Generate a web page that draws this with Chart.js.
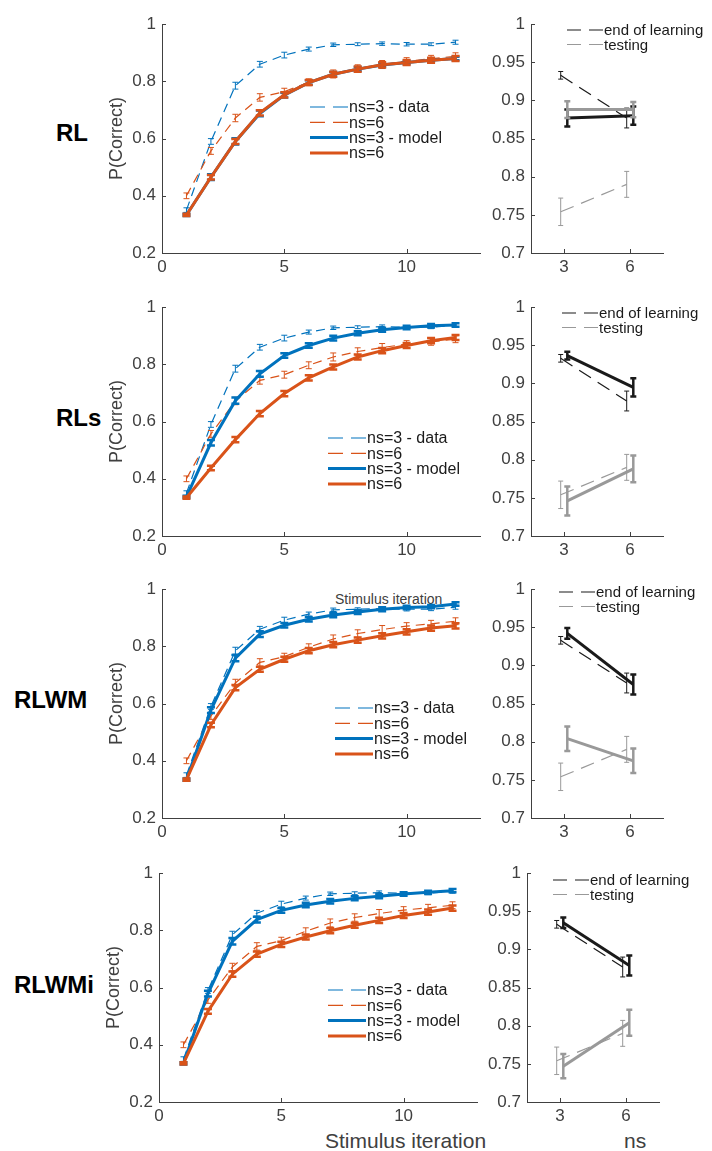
<!DOCTYPE html>
<html>
<head>
<meta charset="utf-8">
<script src="https://cdn.jsdelivr.net/npm/chart.js@4.4.1/dist/chart.umd.min.js"></script>
<style>
  body { margin: 0; background: #fff; width: 712px; height: 1151px; position: relative; overflow: hidden;
         font-family: "Liberation Sans", Arial, sans-serif; }
  canvas { position: absolute; }
  .lbl { position: absolute; white-space: nowrap; line-height: 1; transform: translateY(-50%); color: #404040; }
  .row { font-weight: bold; color: #000; font-size: 24px; }
</style>
</head>
<body>

<div class="lbl row" style="left:56px; top:133px;">RL</div>
<div class="lbl row" style="left:56px; top:418px;">RLs</div>
<div class="lbl row" style="left:14px; top:700px;">RLWM</div>
<div class="lbl row" style="left:14px; top:985px;">RLWMi</div>
<div class="lbl" style="left:335px; top:599px; font-size:14px;">Stimulus iteration</div>
<div class="lbl" style="left:325px; top:1140px; font-size:21px;">Stimulus iteration</div>
<div class="lbl" style="left:624px; top:1140px; font-size:21px;">ns</div>

<script>
// ---- data ----
const iterations = [1, 2, 3, 4, 5, 6, 7, 8, 9, 10, 11, 12];
const iterTicks = [0, 5, 10];
const pTicks = [0.2, 0.4, 0.6, 0.8, 1];

// behavioural data (same in every row)
const dataNs3 = [0.35, 0.59, 0.785, 0.86, 0.892, 0.913, 0.928, 0.93, 0.932, 0.93, 0.93, 0.937];
const dataNs3Err = [0.008, 0.01, 0.012, 0.01, 0.01, 0.007, 0.006, 0.005, 0.006, 0.006, 0.005, 0.007];
const dataNs6 = [0.40, 0.557, 0.672, 0.744, 0.764, 0.797, 0.826, 0.845, 0.859, 0.871, 0.879, 0.888];
const dataNs6Err = [0.01, 0.012, 0.013, 0.013, 0.012, 0.012, 0.014, 0.013, 0.014, 0.012, 0.012, 0.012];

// model fits
const rlNs3 = [0.333, 0.465, 0.59, 0.688, 0.752, 0.796, 0.825, 0.843, 0.857, 0.866, 0.874, 0.88];
const rlNs6 = [0.333, 0.465, 0.59, 0.69, 0.753, 0.796, 0.825, 0.843, 0.858, 0.866, 0.874, 0.88];
const rlsNs3 = [0.337, 0.526, 0.673, 0.767, 0.831, 0.866, 0.892, 0.909, 0.921, 0.929, 0.935, 0.938];
const rlsNs6 = [0.334, 0.438, 0.537, 0.628, 0.698, 0.753, 0.791, 0.826, 0.848, 0.866, 0.883, 0.894];
const rlwmNs3 = [0.334, 0.577, 0.759, 0.843, 0.874, 0.895, 0.91, 0.92, 0.93, 0.936, 0.939, 0.948];
const rlwmNs6 = [0.334, 0.525, 0.656, 0.72, 0.755, 0.785, 0.806, 0.822, 0.837, 0.851, 0.864, 0.872];
const rlwmiNs3 = [0.335, 0.579, 0.762, 0.838, 0.87, 0.889, 0.902, 0.912, 0.919, 0.927, 0.933, 0.939];
const rlwmiNs6 = [0.335, 0.517, 0.647, 0.717, 0.751, 0.777, 0.799, 0.818, 0.835, 0.852, 0.864, 0.878];
const modelErr3 = [0.004, 0.01, 0.011, 0.01, 0.008, 0.008, 0.008, 0.007, 0.007, 0.006, 0.006, 0.006];
const modelErr6 = [0.004, 0.008, 0.009, 0.009, 0.009, 0.009, 0.009, 0.009, 0.009, 0.009, 0.009, 0.009];

// right panels: end of learning / testing by set size
const setSizes = [3, 6];
const nsTicks = [3, 6];
const accTicks = [0.7, 0.75, 0.8, 0.85, 0.9, 0.95, 1];
const endData = [0.933, 0.877];
const endDataErr = [0.005, 0.013];
const testData = [0.754, 0.79];
const testDataErr = [0.018, 0.017];

const rlEnd = [0.877, 0.880], rlEndErr = [0.011, 0.012];
const rlTest = [0.888, 0.888], rlTestErr = [0.011, 0.010];
const rlsEnd = [0.9365, 0.895], rlsEndErr = [0.005, 0.012];
const rlsTest = [0.746, 0.788], rlsTestErr = [0.019, 0.0175];
const rlwmEnd = [0.942, 0.875], rlwmEndErr = [0.007, 0.013];
const rlwmTest = [0.804, 0.775], rlwmTestErr = [0.016, 0.016];
const rlwmiEnd = [0.935, 0.879], rlwmiEndErr = [0.007, 0.013];
const rlwmiTest = [0.747, 0.804], rlwmiTestErr = [0.016, 0.017];

const leftLegend = ['ns=3 - data', 'ns=6', 'ns=3 - model', 'ns=6'];
const rightLegend = ['end of learning', 'testing'];

// ---- layout / style ----
const rowTop = [23, 306, 588, 872];
const rowShift = [0, 0, 0, -3];
const rightShift = [0, 0, 0, -4];
const leftLegendPos = [[310, 107], [328, 438], [335, 708], [328, 990]];
const rightLegendPos = [[567, 30], [562, 313], [559, 592], [553, 880]];

const axisColor = '#404040';
const blue = '#0072BD', orange = '#D95319', black = '#1a1a1a', grey = '#999999';

Chart.defaults.font.family = '"Liberation Sans", Arial, sans-serif';
Chart.defaults.color = axisColor;

const fmt = v => String(+v.toFixed(2));

// error bars drawn right after each dataset so layering follows dataset order
const errorBars = {
  id: 'errorBars',
  afterDatasetDraw(chart, args) {
    const ds = chart.data.datasets[args.index];
    if (!ds.errors) return;
    const { ctx, scales: { x, y } } = chart;
    ctx.save();
    ctx.strokeStyle = ds.borderColor;
    ctx.lineWidth = ds.errWidth;
    ctx.setLineDash([]);
    const c = ds.capWidth / 2;
    ctx.beginPath();
    ds.data.forEach((p, i) => {
      const px = x.getPixelForValue(p.x);
      const top = y.getPixelForValue(p.y + ds.errors[i]);
      const bot = y.getPixelForValue(p.y - ds.errors[i]);
      ctx.moveTo(px, top); ctx.lineTo(px, bot);
      ctx.moveTo(px - c, top); ctx.lineTo(px + c, top);
      ctx.moveTo(px - c, bot); ctx.lineTo(px + c, bot);
    });
    ctx.stroke();
    ctx.restore();
  }
};

// inward ticks (matlab style) + legend inside the axes
const matlabAxes = {
  id: 'matlabAxes',
  afterDraw(chart, args, opts) {
    const { ctx, chartArea: a, scales: { x, y } } = chart;
    ctx.save();
    ctx.strokeStyle = axisColor;
    ctx.lineWidth = 1;
    ctx.beginPath();
    x.ticks.forEach(t => {
      const px = Math.round(x.getPixelForValue(t.value)) + 0.5;
      ctx.moveTo(px, a.bottom); ctx.lineTo(px, a.bottom - 4);
    });
    y.ticks.forEach(t => {
      const py = Math.round(y.getPixelForValue(t.value)) + 0.5;
      ctx.moveTo(a.left, py); ctx.lineTo(a.left + 4, py);
    });
    ctx.stroke();

    const lg = opts.legend;
    ctx.font = lg.size + 'px "Liberation Sans", Arial, sans-serif';
    ctx.textBaseline = 'middle';
    ctx.textAlign = 'left';
    lg.items.forEach((it, i) => {
      const yy = lg.y + i * lg.gap;
      ctx.strokeStyle = it.color;
      ctx.lineWidth = it.width;
      ctx.setLineDash(it.dash);
      ctx.beginPath();
      ctx.moveTo(lg.x, yy); ctx.lineTo(lg.x + lg.len, yy);
      ctx.stroke();
      ctx.fillStyle = '#1a1a1a';
      ctx.fillText(it.text, lg.x + lg.len + 1, yy + 1);
    });
    ctx.restore();
  }
};

function series(label, xs, ys, errs, st) {
  return {
    label,
    data: xs.map((v, i) => ({ x: v + (st.dx || 0), y: ys[i] })),
    errors: errs,
    borderColor: st.color,
    borderWidth: st.width,
    borderDash: st.dash || [],
    errWidth: st.errWidth,
    capWidth: st.cap,
    pointRadius: 0,
    fill: false,
    tension: 0,
    order: st.order,
    clip: false
  };
}

function axisOpts(min, max, tickVals, fitSize, horizontal, title) {
  const o = {
    type: 'linear', min, max,
    grid: { display: false, drawTicks: false },
    border: { display: true, color: axisColor, width: 1 },
    afterBuildTicks: s => { s.ticks = tickVals.map(v => ({ value: v })); },
    ticks: { font: { size: 17 }, color: axisColor, autoSkip: false, maxRotation: 0,
             padding: horizontal ? 4 : 6, callback: v => fmt(v) }
  };
  o.afterFit = horizontal ? s => { s.height = fitSize; } : s => { s.width = fitSize; };
  if (title) o.title = { display: true, text: title, color: axisColor, font: { size: 18 }, padding: { top: 6, bottom: 0 } };
  return o;
}

function addCanvas(left, top, w, h) {
  const cv = document.createElement('canvas');
  cv.width = w; cv.height = h;
  cv.style.left = left + 'px'; cv.style.top = top + 'px';
  document.body.appendChild(cv);
  return cv;
}

const modelCurves = [[rlNs3, rlNs6], [rlsNs3, rlsNs6], [rlwmNs3, rlwmNs6], [rlwmiNs3, rlwmiNs6]];
const modelBars = [[rlEnd, rlEndErr, rlTest, rlTestErr], [rlsEnd, rlsEndErr, rlsTest, rlsTestErr],
                   [rlwmEnd, rlwmEndErr, rlwmTest, rlwmTestErr], [rlwmiEnd, rlwmiEndErr, rlwmiTest, rlwmiTestErr]];

for (let r = 0; r < 4; r++) {
  // ----- learning curves -----
  const lx = 100 + rowShift[r], ly = rowTop[r] - 15;
  const cvL = addCanvas(lx, ly, 390, 270);
  const [m3, m6] = modelCurves[r];
  new Chart(cvL, {
    type: 'line',
    data: {
      datasets: [
        series(leftLegend[0], iterations, dataNs3, dataNs3Err, { color: blue, width: 1.2, dash: [9, 6], errWidth: 1, cap: 6, order: 4 }),
        series(leftLegend[1], iterations, dataNs6, dataNs6Err, { color: orange, width: 1.2, dash: [9, 6], errWidth: 1, cap: 6, order: 3 }),
        series(leftLegend[2], iterations, m3, modelErr3, { color: blue, width: 3, errWidth: 2.5, cap: 8, order: 2 }),
        series(leftLegend[3], iterations, m6, modelErr6, { color: orange, width: 3, errWidth: 2.5, cap: 8, order: 1 })
      ]
    },
    options: {
      responsive: false, animation: false, devicePixelRatio: 1,
      layout: { padding: { top: 15, right: 10, bottom: 0, left: 0 } },
      plugins: {
        legend: { display: false }, tooltip: { enabled: false },
        matlabAxes: { legend: {
          x: leftLegendPos[r][0] - lx, y: leftLegendPos[r][1] - ly, len: 38, gap: 15.3, size: 16,
          items: [
            { text: leftLegend[0], color: blue, width: 1.2, dash: [15, 8] },
            { text: leftLegend[1], color: orange, width: 1.2, dash: [15, 8] },
            { text: leftLegend[2], color: blue, width: 3, dash: [] },
            { text: leftLegend[3], color: orange, width: 3, dash: [] }
          ] } }
      },
      scales: {
        x: axisOpts(0, 13, iterTicks, 25, true),
        y: axisOpts(0.2, 1, pTicks, 62, false, 'P(Correct)')
      }
    },
    plugins: [errorBars, matlabAxes]
  });

  // ----- end of learning / testing -----
  const rx = 482 + rightShift[r], ry = rowTop[r] - 15;
  const cvR = addCanvas(rx, ry, 230, 270);
  const [mEnd, mEndErr, mTest, mTestErr] = modelBars[r];
  new Chart(cvR, {
    type: 'line',
    data: {
      datasets: [
        series('end of learning', setSizes, endData, endDataErr, { color: black, width: 1.2, dash: [14, 8], errWidth: 1, cap: 5, dx: -0.15, order: 4 }),
        series('testing', setSizes, testData, testDataErr, { color: grey, width: 1.2, dash: [14, 8], errWidth: 1, cap: 5, dx: -0.15, order: 3 }),
        series('end of learning - model', setSizes, mEnd, mEndErr, { color: black, width: 3, errWidth: 2.5, cap: 6, dx: 0.15, order: 2 }),
        series('testing - model', setSizes, mTest, mTestErr, { color: grey, width: 3, errWidth: 2.5, cap: 6, dx: 0.15, order: 1 })
      ]
    },
    options: {
      responsive: false, animation: false, devicePixelRatio: 1,
      layout: { padding: { top: 15, right: 49, bottom: 0, left: 0 } },
      plugins: {
        legend: { display: false }, tooltip: { enabled: false },
        matlabAxes: { legend: {
          x: rightLegendPos[r][0] - rx, y: rightLegendPos[r][1] - ry, len: 36, gap: 14.5, size: 15,
          items: [
            { text: rightLegend[0], color: black, width: 1.2, dash: [14, 8] },
            { text: rightLegend[1], color: grey, width: 1.2, dash: [14, 8] }
          ] } }
      },
      scales: {
        x: axisOpts(1.5, 7.5, nsTicks, 25, true),
        y: axisOpts(0.7, 1, accTicks, 49, false)
      }
    },
    plugins: [errorBars, matlabAxes]
  });
}
</script>
</body>
</html>
